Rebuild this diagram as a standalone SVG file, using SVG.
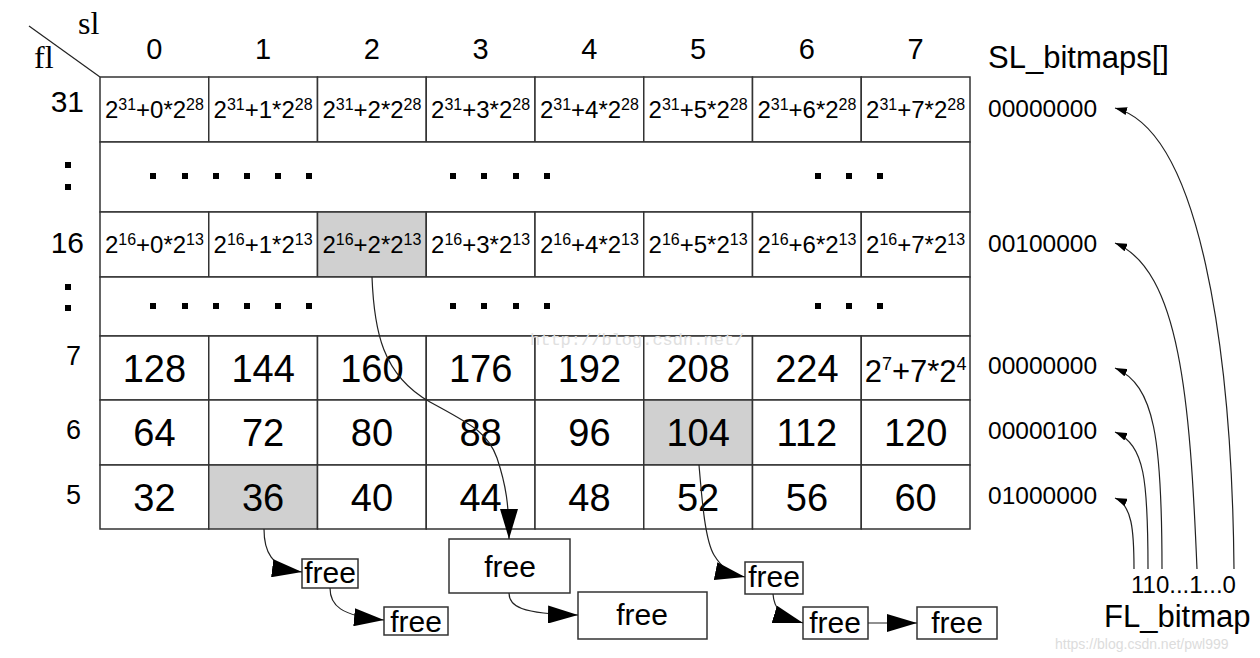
<svg xmlns="http://www.w3.org/2000/svg" width="1260" height="658" viewBox="0 0 1260 658">
<style>
text{font-family:"Liberation Sans",Arial,sans-serif;fill:#000}
.serif{font-family:"Liberation Serif","Times New Roman",serif;font-size:32px}
.hdr{font-size:29px;text-anchor:middle}
.lbl{text-anchor:end}
.pw{font-size:24px;text-anchor:middle}
.big{font-size:38px;text-anchor:middle}
.bm{font-size:24.5px}
.free{font-size:30px;text-anchor:middle}
.grid{fill:#fff;stroke:#333;stroke-width:1.5}
.hi{fill:#d0d0d0;stroke:#333;stroke-width:1.5}
.box{fill:#fff;stroke:#333;stroke-width:1.5}
.ln{fill:none;stroke:#222;stroke-width:1.2}
.wm{font-size:14px;fill:#dcdcdc}
.wm2{font-family:"Liberation Mono","Courier New",monospace;font-size:17px;fill:#e0e0e0}
</style>
<defs>
<marker id="ab" markerUnits="userSpaceOnUse" viewBox="0 0 30 18" markerWidth="30" markerHeight="18" refX="30" refY="9" orient="auto">
<path d="M0,0 L30,9 L0,18 z" fill="#000"/>
</marker>
<marker id="as" markerUnits="userSpaceOnUse" viewBox="0 0 12 8" markerWidth="12" markerHeight="8" refX="12" refY="4" orient="auto">
<path d="M0,0 L12,4 L0,8 z" fill="#000"/>
</marker>
</defs>

<g id="header">
<line x1="29" y1="26" x2="100" y2="77" stroke="#222" stroke-width="1.2"/>
<text class="serif" x="78" y="34">sl</text>
<text class="serif" x="34" y="68">fl</text>
<text class="hdr" x="154.4" y="59">0</text>
<text class="hdr" x="263.1" y="59">1</text>
<text class="hdr" x="371.9" y="59">2</text>
<text class="hdr" x="480.6" y="59">3</text>
<text class="hdr" x="589.4" y="59">4</text>
<text class="hdr" x="698.1" y="59">5</text>
<text class="hdr" x="806.9" y="59">6</text>
<text class="hdr" x="915.6" y="59">7</text>
<text x="988" y="68" font-size="31">SL_bitmaps[]</text>
</g>

<g id="row-labels">
<text class="lbl" x="84" y="112" font-size="30">31</text>
<rect x="65" y="162" width="6" height="6"/>
<rect x="65" y="184" width="6" height="6"/>
<text class="lbl" x="84" y="253" font-size="30">16</text>
<rect x="65" y="284" width="6" height="6"/>
<rect x="65" y="305" width="6" height="6"/>
<text class="lbl" x="81" y="365" font-size="27">7</text>
<text class="lbl" x="81" y="439" font-size="27">6</text>
<text class="lbl" x="81" y="504" font-size="27">5</text>
</g>

<g id="row31">
<rect class="grid" x="100" y="77" width="108.75" height="65"/>
<rect class="grid" x="208.75" y="77" width="108.75" height="65"/>
<rect class="grid" x="317.5" y="77" width="108.75" height="65"/>
<rect class="grid" x="426.25" y="77" width="108.75" height="65"/>
<rect class="grid" x="535" y="77" width="108.75" height="65"/>
<rect class="grid" x="643.75" y="77" width="108.75" height="65"/>
<rect class="grid" x="752.5" y="77" width="108.75" height="65"/>
<rect class="grid" x="861.25" y="77" width="108.75" height="65"/>
<text class="pw" x="154.4" y="118">2<tspan font-size="16" dy="-8">31</tspan><tspan dy="8">+0*2</tspan><tspan font-size="16" dy="-8">28</tspan></text>
<text class="pw" x="263.1" y="118">2<tspan font-size="16" dy="-8">31</tspan><tspan dy="8">+1*2</tspan><tspan font-size="16" dy="-8">28</tspan></text>
<text class="pw" x="371.9" y="118">2<tspan font-size="16" dy="-8">31</tspan><tspan dy="8">+2*2</tspan><tspan font-size="16" dy="-8">28</tspan></text>
<text class="pw" x="480.6" y="118">2<tspan font-size="16" dy="-8">31</tspan><tspan dy="8">+3*2</tspan><tspan font-size="16" dy="-8">28</tspan></text>
<text class="pw" x="589.4" y="118">2<tspan font-size="16" dy="-8">31</tspan><tspan dy="8">+4*2</tspan><tspan font-size="16" dy="-8">28</tspan></text>
<text class="pw" x="698.1" y="118">2<tspan font-size="16" dy="-8">31</tspan><tspan dy="8">+5*2</tspan><tspan font-size="16" dy="-8">28</tspan></text>
<text class="pw" x="806.9" y="118">2<tspan font-size="16" dy="-8">31</tspan><tspan dy="8">+6*2</tspan><tspan font-size="16" dy="-8">28</tspan></text>
<text class="pw" x="915.6" y="118">2<tspan font-size="16" dy="-8">31</tspan><tspan dy="8">+7*2</tspan><tspan font-size="16" dy="-8">28</tspan></text>
</g>

<g id="dots-row-1">
<rect class="grid" x="100" y="142" width="870" height="70"/>
<rect x="150" y="173" width="6" height="6"/><rect x="182" y="173" width="6" height="6"/><rect x="213" y="173" width="6" height="6"/><rect x="244" y="173" width="6" height="6"/><rect x="275" y="173" width="6" height="6"/><rect x="306" y="173" width="6" height="6"/>
<rect x="450" y="173" width="6" height="6"/><rect x="481" y="173" width="6" height="6"/><rect x="513" y="173" width="6" height="6"/><rect x="544" y="173" width="6" height="6"/>
<rect x="815" y="173" width="6" height="6"/><rect x="846" y="173" width="6" height="6"/><rect x="877" y="173" width="6" height="6"/>
</g>

<g id="row16">
<rect class="grid" x="100" y="212" width="108.75" height="65"/>
<rect class="grid" x="208.75" y="212" width="108.75" height="65"/>
<rect class="hi" x="317.5" y="212" width="108.75" height="65"/>
<rect class="grid" x="426.25" y="212" width="108.75" height="65"/>
<rect class="grid" x="535" y="212" width="108.75" height="65"/>
<rect class="grid" x="643.75" y="212" width="108.75" height="65"/>
<rect class="grid" x="752.5" y="212" width="108.75" height="65"/>
<rect class="grid" x="861.25" y="212" width="108.75" height="65"/>
<text class="pw" x="154.4" y="253">2<tspan font-size="16" dy="-8">16</tspan><tspan dy="8">+0*2</tspan><tspan font-size="16" dy="-8">13</tspan></text>
<text class="pw" x="263.1" y="253">2<tspan font-size="16" dy="-8">16</tspan><tspan dy="8">+1*2</tspan><tspan font-size="16" dy="-8">13</tspan></text>
<text class="pw" x="371.9" y="253">2<tspan font-size="16" dy="-8">16</tspan><tspan dy="8">+2*2</tspan><tspan font-size="16" dy="-8">13</tspan></text>
<text class="pw" x="480.6" y="253">2<tspan font-size="16" dy="-8">16</tspan><tspan dy="8">+3*2</tspan><tspan font-size="16" dy="-8">13</tspan></text>
<text class="pw" x="589.4" y="253">2<tspan font-size="16" dy="-8">16</tspan><tspan dy="8">+4*2</tspan><tspan font-size="16" dy="-8">13</tspan></text>
<text class="pw" x="698.1" y="253">2<tspan font-size="16" dy="-8">16</tspan><tspan dy="8">+5*2</tspan><tspan font-size="16" dy="-8">13</tspan></text>
<text class="pw" x="806.9" y="253">2<tspan font-size="16" dy="-8">16</tspan><tspan dy="8">+6*2</tspan><tspan font-size="16" dy="-8">13</tspan></text>
<text class="pw" x="915.6" y="253">2<tspan font-size="16" dy="-8">16</tspan><tspan dy="8">+7*2</tspan><tspan font-size="16" dy="-8">13</tspan></text>
</g>

<g id="dots-row-2">
<rect class="grid" x="100" y="277" width="870" height="59"/>
<rect x="150" y="303" width="6" height="6"/><rect x="182" y="303" width="6" height="6"/><rect x="213" y="303" width="6" height="6"/><rect x="244" y="303" width="6" height="6"/><rect x="275" y="303" width="6" height="6"/><rect x="306" y="303" width="6" height="6"/>
<rect x="450" y="303" width="6" height="6"/><rect x="481" y="303" width="6" height="6"/><rect x="513" y="303" width="6" height="6"/><rect x="544" y="303" width="6" height="6"/>
<rect x="815" y="303" width="6" height="6"/><rect x="846" y="303" width="6" height="6"/><rect x="877" y="303" width="6" height="6"/>
</g>

<g id="row7">
<rect class="grid" x="100" y="336" width="108.75" height="64"/>
<rect class="grid" x="208.75" y="336" width="108.75" height="64"/>
<rect class="grid" x="317.5" y="336" width="108.75" height="64"/>
<rect class="grid" x="426.25" y="336" width="108.75" height="64"/>
<rect class="grid" x="535" y="336" width="108.75" height="64"/>
<rect class="grid" x="643.75" y="336" width="108.75" height="64"/>
<rect class="grid" x="752.5" y="336" width="108.75" height="64"/>
<rect class="grid" x="861.25" y="336" width="108.75" height="64"/>
<text class="big" x="154.4" y="382">128</text>
<text class="big" x="263.1" y="382">144</text>
<text class="big" x="371.9" y="382">160</text>
<text class="big" x="480.6" y="382">176</text>
<text class="big" x="589.4" y="382">192</text>
<text class="big" x="698.1" y="382">208</text>
<text class="big" x="806.9" y="382">224</text>
<text x="915.6" y="382" font-size="31" text-anchor="middle">2<tspan font-size="18" dy="-12">7</tspan><tspan dy="12">+7*2</tspan><tspan font-size="18" dy="-12">4</tspan></text>
</g>

<g id="row6">
<rect class="grid" x="100" y="400" width="108.75" height="65"/>
<rect class="grid" x="208.75" y="400" width="108.75" height="65"/>
<rect class="grid" x="317.5" y="400" width="108.75" height="65"/>
<rect class="grid" x="426.25" y="400" width="108.75" height="65"/>
<rect class="grid" x="535" y="400" width="108.75" height="65"/>
<rect class="hi" x="643.75" y="400" width="108.75" height="65"/>
<rect class="grid" x="752.5" y="400" width="108.75" height="65"/>
<rect class="grid" x="861.25" y="400" width="108.75" height="65"/>
<text class="big" x="154.4" y="446">64</text>
<text class="big" x="263.1" y="446">72</text>
<text class="big" x="371.9" y="446">80</text>
<text class="big" x="480.6" y="446">88</text>
<text class="big" x="589.4" y="446">96</text>
<text class="big" x="698.1" y="446">104</text>
<text class="big" x="806.9" y="446">112</text>
<text class="big" x="915.6" y="446">120</text>
</g>

<g id="row5">
<rect class="grid" x="100" y="465" width="108.75" height="64"/>
<rect class="hi" x="208.75" y="465" width="108.75" height="64"/>
<rect class="grid" x="317.5" y="465" width="108.75" height="64"/>
<rect class="grid" x="426.25" y="465" width="108.75" height="64"/>
<rect class="grid" x="535" y="465" width="108.75" height="64"/>
<rect class="grid" x="643.75" y="465" width="108.75" height="64"/>
<rect class="grid" x="752.5" y="465" width="108.75" height="64"/>
<rect class="grid" x="861.25" y="465" width="108.75" height="64"/>
<text class="big" x="154.4" y="511">32</text>
<text class="big" x="263.1" y="511">36</text>
<text class="big" x="371.9" y="511">40</text>
<text class="big" x="480.6" y="511">44</text>
<text class="big" x="589.4" y="511">48</text>
<text class="big" x="698.1" y="511">52</text>
<text class="big" x="806.9" y="511">56</text>
<text class="big" x="915.6" y="511">60</text>
</g>

<g id="sl-bitmaps">
<text class="bm" x="988" y="117">00000000</text>
<text class="bm" x="988" y="252">00100000</text>
<text class="bm" x="988" y="374">00000000</text>
<text class="bm" x="988" y="439">00000100</text>
<text class="bm" x="988" y="504">01000000</text>
</g>

<g id="fl-bitmap">
<text x="1131" y="593" font-size="24">110...1...0</text>
<text x="1104" y="627" font-size="31">FL_bitmap</text>
</g>

<g id="free1"><rect class="box" x="302" y="559" width="56" height="29"/><text class="free" x="330" y="583">free</text></g>
<g id="free2"><rect class="box" x="384" y="607" width="64" height="28"/><text class="free" x="416" y="632">free</text></g>
<g id="free3"><rect class="box" x="449" y="539" width="121" height="54"/><text class="free" x="510" y="577">free</text></g>
<g id="free4"><rect class="box" x="578" y="592" width="129" height="47"/><text class="free" x="642" y="625">free</text></g>
<g id="free5"><rect class="box" x="745" y="562" width="58" height="32"/><text class="free" x="774" y="587">free</text></g>
<g id="free6"><rect class="box" x="803" y="607" width="65" height="32"/><text class="free" x="835" y="633">free</text></g>
<g id="free7"><rect class="box" x="917" y="607" width="80" height="32"/><text class="free" x="957" y="633">free</text></g>

<g id="connectors">
<path class="ln" marker-end="url(#ab)" d="M264,529 C264,550 270,568 302,572"/>
<path class="ln" marker-end="url(#ab)" d="M330,588 C330,605 340,616 384,620"/>
<path class="ln" marker-end="url(#ab)" d="M372,277 C374,330 382,375 430,402 C470,424 488,432 497,458 C506,485 509,505 509,539"/>
<path class="ln" marker-end="url(#ab)" d="M509,593 C509,606 520,614 578,615"/>
<path class="ln" marker-end="url(#ab)" d="M699,465 C702,500 705,540 714,555 C722,568 730,574 745,577"/>
<path class="ln" marker-end="url(#ab)" d="M773,594 C774,608 780,616 803,623"/>
<path class="ln" marker-end="url(#ab)" d="M868,623 L917,623"/>
<path class="ln" marker-end="url(#as)" d="M1234,569 C1232,350 1200,130 1115,108"/>
<path class="ln" marker-end="url(#as)" d="M1197,569 C1190,400 1180,270 1115,243"/>
<path class="ln" marker-end="url(#as)" d="M1162,569 C1162,440 1155,385 1115,368"/>
<path class="ln" marker-end="url(#as)" d="M1148,569 C1148,480 1145,445 1115,432"/>
<path class="ln" marker-end="url(#as)" d="M1134,569 C1134,530 1132,505 1115,498"/>
</g>

<g id="watermarks">
<text class="wm2" x="530" y="345">http://blog.csdn.net/</text>
<text class="wm" x="1055" y="649">https://blog.csdn.net/pwl999</text>
</g>
</svg>
